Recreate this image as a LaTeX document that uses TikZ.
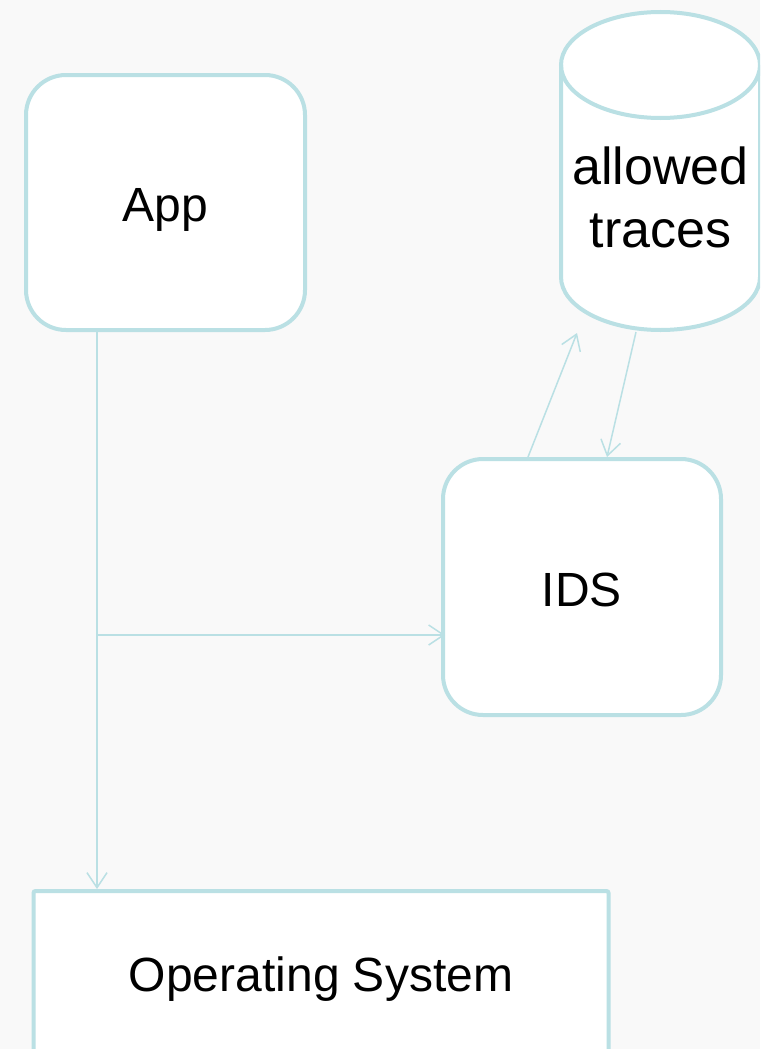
\documentclass[tikz,border=0pt]{standalone}
\usepackage{fontspec}
\setmainfont{Liberation Sans}
\usetikzlibrary{arrows.meta,calc}
\definecolor{edgecol}{RGB}{186,224,228}
\definecolor{bgcol}{RGB}{249,249,249}
\tikzset{
  box/.style={draw=edgecol, line width=4pt, fill=white, rectangle,
    inner sep=0pt, text height=38pt, text depth=0pt,
    font=\fontsize{48}{58}\selectfont},
  roundbox/.style={box, rounded corners=40pt},
  conn/.style={draw=edgecol, line width=1.5pt,
    -{Straight Barb[length=15pt,width=20pt,line width=1.5pt]}},
}
\begin{document}
\begin{tikzpicture}[x=1pt,y=-1pt]
  % canvas
  \useasboundingbox (0,0) rectangle (760,1049);
  \clip (0,0) rectangle (760,1049);
  \fill[bgcol] (0,0) rectangle (760,1049);

  % application and detector
  \node[roundbox, minimum width=279pt, minimum height=255pt] (app) at (165.5,202.5) {App};
  \node[roundbox, minimum width=278pt, minimum height=256pt] (ids) at (582,587) {IDS};

  % operating system (runs off the lower edge)
  \node[box, rounded corners=2pt, minimum width=575pt, minimum height=162pt] (os) at (321,972) {Operating System};

  % database cylinder
  \fill[white] (561,65) -- (561,277) arc[start angle=180, end angle=360, x radius=99.5, y radius=-53]
    -- (760,65) arc[start angle=0, end angle=180, x radius=99.5, y radius=-53] -- cycle;
  \draw[edgecol, line width=4pt]
    (561,65) -- (561,277) arc[start angle=180, end angle=360, x radius=99.5, y radius=-53] -- (760,65);
  \draw[edgecol, line width=4pt] (660.5,65) ellipse[x radius=99.5, y radius=53];
  \node[align=center, inner sep=0pt, font=\fontsize{52}{63}\selectfont] (db) at (660.5,197.5) {allowed\\traces};

  % connector end points on the cylinder base
  \coordinate (dbin)  at (577,333);
  \coordinate (dbout) at (636,332);
  \coordinate (split) at (97,635);

  % connectors
  \draw[conn] (app.south -| split) -- (os.north -| split);
  \draw[conn] (split) -- ($(split -| ids.west)+(4,0)$);
  \draw[conn] ($(ids.north west)+(87,0)$) -- (dbin);
  \draw[conn] (dbout) -- ($(ids.north west)+(166,0)$);
\end{tikzpicture}
\end{document}
